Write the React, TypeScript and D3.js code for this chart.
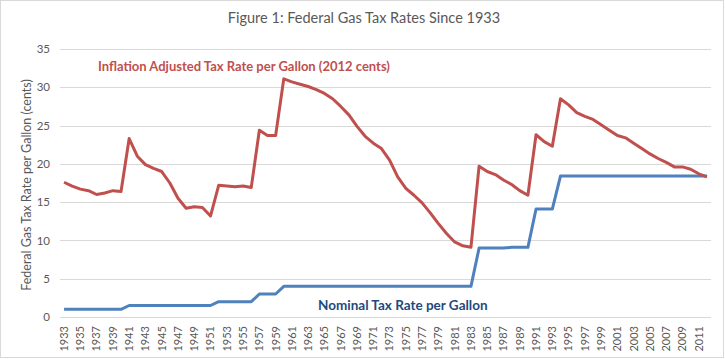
import React, { useRef, useEffect } from 'react';
import * as d3 from 'd3';

// years 1933..2012
const years: number[] = d3.range(1933, 2013);

// inflation adjusted rate (2012 cents)
const adjusted: number[] = [
  17.6, 17.1, 16.7, 16.5, 16.0, 16.2, 16.5, 16.4, 23.3, 21.0,
  19.9, 19.4, 19.0, 17.5, 15.5, 14.2, 14.4, 14.3, 13.2, 17.2,
  17.1, 17.0, 17.1, 16.9, 24.4, 23.7, 23.7, 31.1, 30.7, 30.4,
  30.1, 29.7, 29.2, 28.5, 27.5, 26.4, 24.9, 23.6, 22.7, 22.0,
  20.5, 18.3, 16.8, 15.9, 14.9, 13.6, 12.2, 10.9, 9.8, 9.3,
  9.1, 19.7, 19.0, 18.6, 17.9, 17.3, 16.5, 15.9, 23.8, 22.9,
  22.3, 28.5, 27.7, 26.7, 26.2, 25.8, 25.1, 24.4, 23.7, 23.4,
  22.7, 22.0, 21.3, 20.7, 20.2, 19.6, 19.6, 19.3, 18.7, 18.3
];

// nominal rate (cents)
const nominal: number[] = [
  1, 1, 1, 1, 1, 1, 1, 1, 1.5, 1.5,
  1.5, 1.5, 1.5, 1.5, 1.5, 1.5, 1.5, 1.5, 1.5, 2,
  2, 2, 2, 2, 3, 3, 3, 4, 4, 4,
  4, 4, 4, 4, 4, 4, 4, 4, 4, 4,
  4, 4, 4, 4, 4, 4, 4, 4, 4, 4,
  4, 9, 9, 9, 9, 9.1, 9.1, 9.1, 14.1, 14.1,
  14.1, 18.4, 18.4, 18.4, 18.4, 18.4, 18.4, 18.4, 18.4, 18.4,
  18.4, 18.4, 18.4, 18.4, 18.4, 18.4, 18.4, 18.4, 18.4, 18.4
];

const yTicks: number[] = [0, 5, 10, 15, 20, 25, 30, 35];

const FONT = 'Lato, "Open Sans", sans-serif';

export default function App() {
  const ref = useRef<SVGSVGElement>(null);

  useEffect(() => {
    const W = 725, H = 359;
    const margin = { top: 49, right: 14, bottom: 42, left: 60 };
    const width = W - margin.left - margin.right;
    const height = H - margin.top - margin.bottom;

    const svg = d3.select(ref.current);
    svg.selectAll('*').remove();

    svg.append('rect')
      .attr('x', 0.5).attr('y', 0.5)
      .attr('width', W - 2).attr('height', H - 2)
      .attr('fill', '#fff').attr('stroke', '#d9d9d9');

    svg.append('text')
      .attr('x', 364).attr('y', 23)
      .attr('text-anchor', 'middle')
      .attr('font-family', FONT).attr('font-size', 14.5)
      .attr('fill', '#595959')
      .text('Figure 1: Federal Gas Tax Rates Since 1933');

    const g = svg.append('g')
      .attr('transform', 'translate(' + margin.left + ',' + margin.top + ')');

    const x = d3.scaleBand<string>()
      .domain(years.map(String))
      .range([0, width]);

    const y = d3.scaleLinear().domain([0, 35]).range([height, 0]);

    // gridlines
    g.append('g')
      .selectAll('line')
      .data(yTicks)
      .enter()
      .append('line')
      .attr('x1', 0).attr('x2', width)
      .attr('y1', d => Math.round(y(d)) + 0.5)
      .attr('y2', d => Math.round(y(d)) + 0.5)
      .attr('stroke', '#d9d9d9');

    // Y axis
    const yAxis = g.append('g')
      .call(d3.axisLeft(y).tickValues(yTicks).tickSize(0).tickPadding(10));
    yAxis.select('.domain').remove();
    yAxis.selectAll('text')
      .attr('font-family', FONT).attr('font-size', 11.5)
      .attr('fill', '#595959');

    // X axis
    const xAxis = g.append('g')
      .attr('transform', 'translate(0,' + height + ')')
      .call(d3.axisBottom(x)
        .tickValues(years.filter((d, i) => i % 2 === 0).map(String))
        .tickSize(0));
    xAxis.select('.domain').remove();
    xAxis.selectAll('text')
      .attr('font-family', FONT).attr('font-size', 11)
      .attr('fill', '#595959')
      .attr('text-anchor', 'end')
      .attr('transform', 'rotate(-90)')
      .attr('x', -9).attr('y', 0).attr('dy', '0.35em');

    // y axis title
    svg.append('text')
      .attr('transform', 'translate(27,' + (margin.top + height / 2 + 2) + ') rotate(-90)')
      .attr('text-anchor', 'middle')
      .attr('dy', '0.35em')
      .attr('font-family', FONT).attr('font-size', 12.5)
      .attr('fill', '#595959')
      .text('Federal Gas Tax Rate per Gallon (cents)');

    const cx = (d: number) => (x(String(d)) as number) + x.bandwidth() / 2;

    const line = (vals: number[]) => d3.line<number>()
      .x(d => cx(d))
      .y((d, i) => y(vals[i]))(years);

    g.append('path')
      .attr('d', line(nominal))
      .attr('fill', 'none')
      .attr('stroke', '#4f81bd')
      .attr('stroke-width', 3)
      .attr('stroke-linejoin', 'round');

    g.append('path')
      .attr('d', line(adjusted))
      .attr('fill', 'none')
      .attr('stroke', '#c0504d')
      .attr('stroke-width', 3)
      .attr('stroke-linejoin', 'round');

    svg.append('text')
      .attr('x', 98).attr('y', 71)
      .attr('font-family', FONT).attr('font-size', 13)
      .attr('font-weight', 'bold')
      .attr('fill', '#c0504d')
      .text('Inflation Adjusted Tax Rate per Gallon (2012 cents)');

    svg.append('text')
      .attr('x', 318).attr('y', 310)
      .attr('font-family', FONT).attr('font-size', 13.5)
      .attr('font-weight', 'bold')
      .attr('fill', '#1f497d')
      .text('Nominal Tax Rate per Gallon');
  }, []);

  return (
    <svg ref={ref} width={725} height={359}
      style={{ position: 'absolute', left: 0, top: 0, background: '#fff' }} />
  );
}
